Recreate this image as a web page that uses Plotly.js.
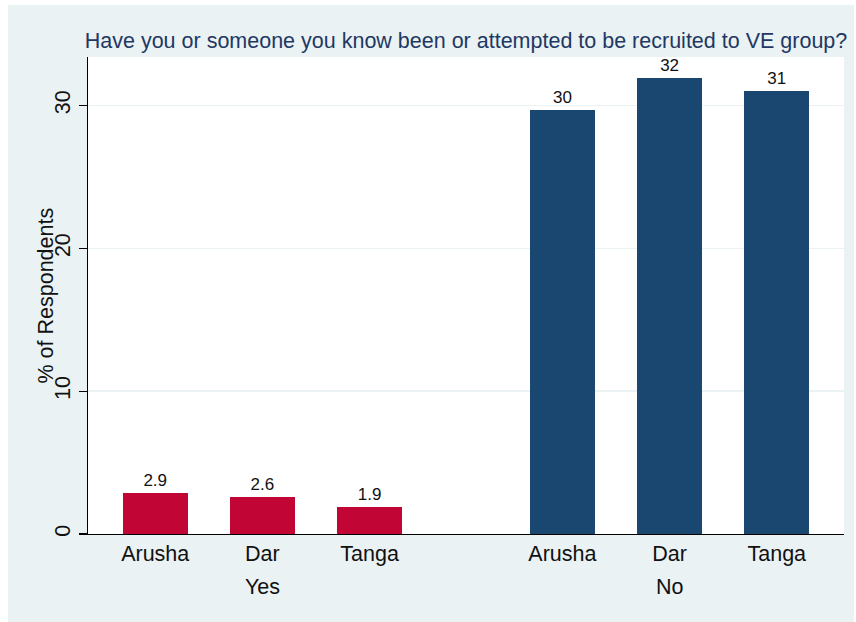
<!DOCTYPE html>
<html>
<head>
<meta charset="utf-8">
<script src="https://cdn.plot.ly/plotly-3.0.1.min.js"></script>
<style>
  html, body { margin: 0; padding: 0; background: #ffffff; }
  #chart { position: absolute; left: 8px; top: 5px; width: 846px; height: 617px; }
</style>
</head>
<body>
<div id="chart"></div>
<script>
const regions = ["Arusha", "Dar", "Tanga"];
const groups = ["Yes", "No"];
const yesValues = [2.9, 2.6, 1.9];
const noValues = [29.7, 31.9, 31.0];
const yTicks = [0, 10, 20, 30];
const chartTitle = "Have you or someone you know been or attempted to be recruited to VE group?";
const yTitle = "% of Respondents";

const FONT = "Liberation Sans, Arial, Helvetica, sans-serif";
const BG = "#EAF2F3";
const FS = 21.5;

function fmt(v) { return Number(v).toPrecision(2); }

const traces = [
  {
    type: "bar", x: regions, y: yesValues, xaxis: "x", yaxis: "y",
    width: 0.606, marker: { color: "#C10534", line: { width: 0 } },
    text: yesValues.map(fmt), textposition: "outside", cliponaxis: false,
    textfont: { family: FONT, size: 17, color: "#111111" },
    hoverinfo: "skip", showlegend: false
  },
  {
    type: "bar", x: regions, y: noValues, xaxis: "x2", yaxis: "y2",
    width: 0.606, marker: { color: "#1A476F", line: { width: 0 } },
    text: noValues.map(fmt), textposition: "outside", cliponaxis: false,
    textfont: { family: FONT, size: 17, color: "#111111" },
    hoverinfo: "skip", showlegend: false
  }
];

const xCommon = {
  type: "category", showgrid: false, zeroline: false,
  showline: true, linecolor: "#000000", linewidth: 1.3,
  ticks: "", tickfont: { family: FONT, size: FS, color: "#111111" },
  fixedrange: true
};

const midIndex = (regions.length - 1) / 2;

const layout = {
  width: 846, height: 617,
  paper_bgcolor: BG, plot_bgcolor: "#ffffff",
  margin: { l: 80, r: 10, t: 52, b: 88 },
  font: { family: FONT, color: "#111111" },
  title: {
    text: chartTitle, x: 0.5, xref: "paper", xanchor: "center",
    y: 1 - 35 / 617, yref: "container", yanchor: "middle",
    font: { family: FONT, size: FS, color: "#1F3864" }
  },
  bargap: 0,
  xaxis: Object.assign({}, xCommon, {
    domain: [0, 0.5], anchor: "y", range: [-0.627, 2.899]
  }),
  xaxis2: Object.assign({}, xCommon, {
    domain: [0.5, 1], anchor: "y2", range: [-0.899, 2.627]
  }),
  yaxis: {
    domain: [0, 1], anchor: "x", range: [0, 33.4],
    tickvals: yTicks, ticktext: yTicks.map(String), tickangle: -90,
    ticks: "outside", ticklen: 8, tickcolor: "#000000", tickwidth: 1.2,
    tickfont: { family: FONT, size: FS, color: "#111111" },
    showline: true, linecolor: "#000000", linewidth: 1.3,
    showgrid: true, gridcolor: BG, gridwidth: 1.5, zeroline: false,
    fixedrange: true
  },
  yaxis2: {
    domain: [0, 1], anchor: "x2", matches: "y", range: [0, 33.4],
    tickvals: yTicks, showticklabels: false, ticks: "",
    showline: false, showgrid: true, gridcolor: BG, gridwidth: 1.5, zeroline: false,
    fixedrange: true
  },
  annotations: [
    {
      text: groups[0], xref: "x", yref: "paper", x: midIndex, y: 0,
      xanchor: "center", yanchor: "middle", yshift: -53, showarrow: false,
      font: { family: FONT, size: FS, color: "#111111" }
    },
    {
      text: groups[1], xref: "x2", yref: "paper", x: midIndex, y: 0,
      xanchor: "center", yanchor: "middle", yshift: -53, showarrow: false,
      font: { family: FONT, size: FS, color: "#111111" }
    },
    {
      text: yTitle, xref: "paper", yref: "paper", x: 0, y: 0.5,
      xanchor: "center", yanchor: "middle", xshift: -43, textangle: -90,
      showarrow: false, font: { family: FONT, size: FS, color: "#111111" }
    }
  ]
};

Plotly.newPlot("chart", traces, layout, { displayModeBar: false, staticPlot: true });
</script>
</body>
</html>
